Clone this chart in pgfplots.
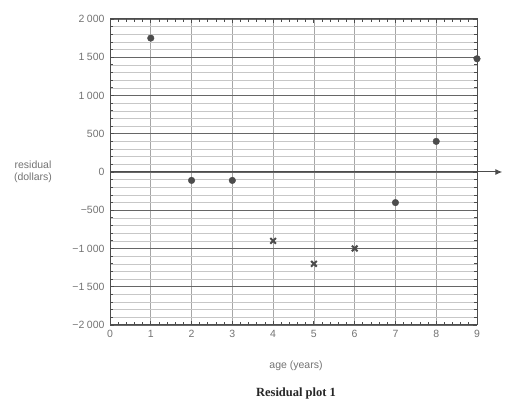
\documentclass[border=0pt]{standalone}
\usepackage{fontspec}
\setmainfont{Liberation Sans}
\newfontfamily\capfont{Liberation Serif}
\usepackage{pgfplots}
\pgfplotsset{compat=1.18}
\usetikzlibrary{arrows.meta}
\definecolor{txt}{gray}{0.45}
\definecolor{pts}{gray}{0.3}

\begin{document}
\begin{tikzpicture}[x=1pt,y=1pt]
\useasboundingbox (0,0) rectangle (506,403);
\begin{axis}[
  at={(110pt,78pt)}, anchor=south west,
  scale only axis, width=367pt, height=306pt,
  xmin=0, xmax=9, ymin=-2000, ymax=2000,
  xtick={0,...,9}, ytick={-2000,-1500,...,2000},
  yticklabels={−2\hspace{2.5pt}000,−1\hspace{2.5pt}500,−1\hspace{2.5pt}000,−500,0,500,1\hspace{2.5pt}000,1\hspace{2.5pt}500,2\hspace{2.5pt}000},
  minor x tick num=4, minor y tick num=4,
  tick align=inside,
  major tick length=4pt, minor tick length=3pt,
  x tick style={black!70, line width=0.8pt},
  y tick style={black!70, line width=0.8pt},
  xmajorgrids, ymajorgrids, yminorgrids,
  major x grid style={black!35, line width=0.6pt},
  major y grid style={black!60, line width=0.7pt},
  minor y grid style={black!22, line width=0.5pt},
  axis line style={black!70, line width=1pt},
  tick label style={font=\fontsize{10.5}{12}\selectfont, text=txt},
  /pgf/number format/assume math mode=true,
  xticklabel style={yshift=-2pt},
  yticklabel style={xshift=-2pt},
  clip=false,
]
\addplot[only marks, mark=*, mark size=3.3pt, pts] coordinates {
  (1,1750) (2,-110) (3,-110) (7,-400) (8,400) (9,1480)
};
\addplot[only marks, mark=x, mark size=4pt, line width=2pt, pts] coordinates {
  (4,-900) (5,-1200) (6,-1000)
};
\draw[black!70, line width=1pt, -{Latex[length=7pt,width=6pt]}] (axis cs:0,0) -- (axis cs:9.62,0);
\end{axis}
\node[text=txt, font=\fontsize{10.5}{12.5}\selectfont, align=center] at (33,231) {residual\\(dollars)};
\node[text=txt, font=\fontsize{10.5}{12}\selectfont] at (296,37) {age (years)};
\node[font=\capfont\bfseries\fontsize{12.5}{14}\selectfont, text=black!85] at (296,10) {Residual plot 1};
\end{tikzpicture}
\end{document}
